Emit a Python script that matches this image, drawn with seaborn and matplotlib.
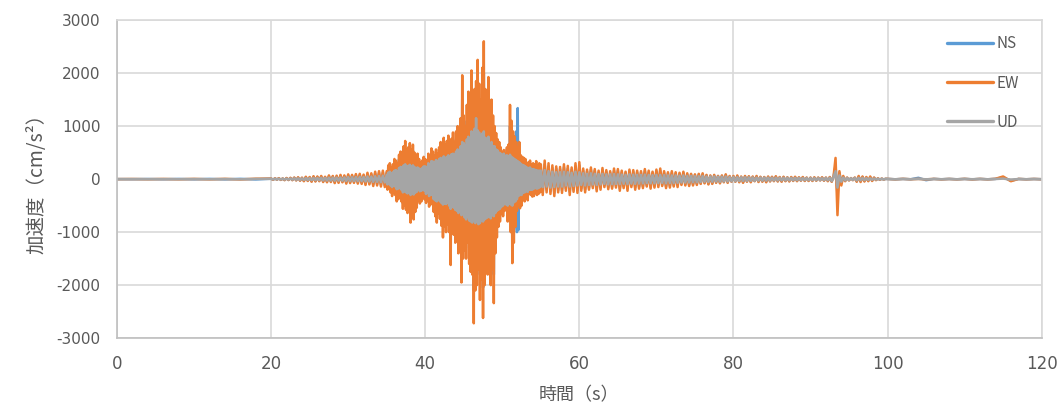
import numpy as np
import pandas as pd
import matplotlib
matplotlib.use("Agg")
import matplotlib.pyplot as plt
import seaborn as sns

# ==============================
# Data (peak values, cm/s^2)
# ==============================

# sampling times of each stretch (s)
t_pre = np.arange(0, 20, 2)
t_early = np.linspace(20, 34.75, 60)
t_main = np.linspace(35, 54.9, 200)
t_coda = np.linspace(55, 79.75, 100)
t_late = np.linspace(80, 99.75, 80)
t_tail = np.arange(100, 121, 1)

ew_pre = [0, 2, -2, 3, -3, 4, -4, 5, -6, 8]
ew_early = [10, -12, 15, -10, 18, -15, 12, -20, 22, -18,
            25, -20, 30, -25, 35, -30, 28, -40, 45, -35,
            40, -50, 55, -45, 50, -40, 60, -55, 45, -60,
            70, -55, 60, -75, 65, -70, 80, -60, 70, -85,
            90, -75, 80, -70, 95, -85, 100, -90, 85, -110,
            120, -100, 110, -130, 140, -120, 150, -140, 160, -150]
ew_main = [150, -200, 260, -180, 300, -250, 220, -320, 280, -260,
           380, -300, 350, -420, 300, -380, 460, -350, 520, -420,
           480, -560, 620, -500, 720, -580, 550, -640, 600, -520,
           680, -820, 560, -700, 650, -760, 500, -620, 420, -540,
           480, -400, 380, -460, 320, -420, 350, -300, 420, -380,
           380, -450, 300, -400, 480, -520, 400, -480, 580, -450,
           520, -620, 450, -700, 560, -820, 480, -650, 600, -750,
           700, -880, 620, -1100, 780, -900, 650, -1000, 720, -850,
           820, -1000, 700, -1620, 760, -900, 880, -1050, 700, -1200,
           900, -1150, 1000, -1400, 850, -1300, 1150, -1950, 1960, -1500,
           1200, -1350, 1000, -1500, 1400, -1200, 1650, -1600, 1300, -1750,
           2050, -1800, 1500, -2720, 1700, -2100, 1850, -2000, 2250, -1700,
           1800, -2280, 1500, -1900, 2100, -2620, 2600, -2000, 1700, -1600,
           1600, -1800, 1925, -1500, 1300, -2000, 1500, -1700, 1200, -2340,
           1000, -1400, 870, -1100, 750, -900, 700, -800, 600, -650,
           500, -700, 550, -600, 480, -550, 600, -800, 650, -700,
           1400, -1000, 1100, -1585, 900, -1200, 800, -900, 700, -600,
           600, -500, 700, -550, 450, -500, 420, -380, 400, -420,
           380, -350, 300, -400, 320, -280, 350, -300, 280, -330,
           300, -320, 280, -260, 340, -300, 260, -280, 300, -250]
ew_coda = [280, -300, 350, -250, 300, -280, 260, -320, 240, -250,
           230, -260, 280, -220, 250, -300, 220, -240, 300, -260,
           320, -220, 200, -250, 180, -200, 220, -170, 190, -230,
           160, -200, 210, -150, 170, -190, 150, -180, 200, -160,
           190, -220, 160, -170, 140, -220, 180, -150, 170, -200,
           160, -180, 150, -170, 190, -140, 160, -180, 140, -160,
           180, -150, 200, -130, 150, -170, 130, -160, 150, -140,
           130, -150, 120, -110, 140, -120, 110, -130, 100, -120,
           90, -110, 100, -90, 110, -80, 80, -100, 70, -90,
           80, -70, 60, -80, 70, -60, 90, -70, 60, -50]
ew_late = [60, -50, 70, -60, 50, -70, 60, -50, 55, -60,
           50, -40, 60, -55, 45, -50, 40, -60, 50, -45,
           45, -40, 55, -45, 40, -50, 45, -40, 35, -45,
           40, -35, 45, -40, 35, -30, 40, -35, 30, -35,
           30, -35, 35, -30, 30, -25, 35, -30, 30, -40,
           40, -50, 60, 400, -680, 150, -120, 60, -40, 30,
           -25, 20, -20, 30, -50, 60, -55, 50, -45, 40,
           -40, 50, -35, 30, -20, 15, -12, 10, -8, 6]
ew_tail = [4, -4, 5, -3, 4, -5, 4, -4, 3, -4, 5,
           -5, 4, -4, 6, 50, -40, 4, -3, 3, -2]

ns_pre = [0, -2, 2, -3, 3, -4, 4, -5, 5, -6]
ns_early = [8, -10, 12, -8, 15, -12, 10, -16, 18, -15,
            20, -16, 25, -20, 28, -25, 22, -32, 36, -28,
            32, -40, 45, -36, 40, -32, 48, -44, 36, -48,
            56, -44, 48, -60, 52, -56, 64, -48, 56, -68,
            72, -60, 64, -56, 76, -68, 80, -72, 68, -88,
            96, -80, 88, -104, 112, -96, 120, -112, 128, -120]
ns_main = [120, -160, 200, -150, 240, -200, 180, -260, 220, -200,
           300, -240, 280, -340, 250, -300, 380, -280, 420, -340,
           400, -460, 500, -420, 580, -480, 460, -520, 500, -440,
           560, -650, 480, -600, 540, -620, 420, -520, 360, -460,
           400, -340, 320, -380, 280, -350, 300, -260, 350, -320,
           320, -380, 260, -340, 400, -440, 340, -400, 480, -380,
           440, -520, 380, -580, 460, -680, 400, -560, 500, -620,
           580, -720, 520, -880, 640, -760, 540, -820, 600, -700,
           680, -820, 580, -1200, 620, -760, 720, -880, 580, -980,
           760, -950, 820, -1100, 700, -1050, 950, -1500, 1500, -1200,
           980, -1100, 820, -1200, 1100, -980, 1300, -1300, 1050, -1400,
           1600, -1450, 1200, -2100, 1350, -1700, 1500, -1600, 1750, -1400,
           1450, -1800, 1200, -1500, 1650, -2050, 2000, -1600, 1350, -1300,
           1300, -1450, 1500, -1200, 1050, -1600, 1200, -1350, 950, -1800,
           820, -1100, 700, -900, 620, -720, 560, -650, 480, -520,
           420, -560, 460, -500, 400, -460, 560, -650, 540, -600,
           1000, -800, 900, -1250, 750, -950, 700, -800, 900, -1000,
           1340, -960, 500, -450, 380, -420, 350, -320, 330, -350,
           310, -290, 250, -330, 260, -230, 290, -250, 230, -270,
           250, -260, 230, -210, 280, -250, 210, -230, 250, -200]
ns_coda = [220, -240, 280, -200, 240, -230, 210, -260, 200, -210,
           190, -210, 230, -180, 200, -240, 180, -200, 240, -210,
           260, -180, 160, -200, 150, -170, 180, -140, 160, -190,
           130, -160, 170, -120, 140, -160, 120, -150, 160, -130,
           160, -180, 130, -140, 120, -180, 150, -120, 140, -160,
           130, -150, 120, -140, 160, -120, 130, -150, 120, -130,
           150, -120, 160, -110, 120, -140, 110, -130, 120, -120,
           110, -120, 100, -90, 120, -100, 90, -110, 90, -100,
           80, -90, 90, -80, 90, -70, 70, -90, 60, -80,
           70, -60, 60, -70, 60, -50, 80, -60, 50, -45]
ns_late = [50, -45, 55, -50, 40, -60, 50, -40, 45, -50,
           40, -35, 50, -45, 38, -40, 35, -50, 40, -38,
           38, -32, 45, -38, 32, -40, 38, -32, 30, -36,
           32, -28, 36, -32, 28, -25, 32, -28, 25, -28,
           25, -28, 28, -25, 25, -20, 28, -25, 25, -32,
           35, -45, 50, 250, -300, 120, -80, 40, -30, 25,
           -20, 18, -15, 25, -40, 45, -40, 40, -35, 30,
           -30, 38, -28, 25, -16, 12, -10, 8, -6, 5]
ns_tail = [3, -3, 4, -3, 25, -20, 4, -3, 3, -3, 4,
           -4, 3, -3, 4, 35, -30, 3, -3, 2, -2]

ud_pre = [0, 1, -1, 1, -1, 2, -2, 2, -3, 4]
ud_early = [5, -6, 7, -6, 8, -8, 7, -9, 10, -9,
            12, -10, 14, -12, 15, -14, 13, -16, 18, -16,
            18, -20, 22, -20, 22, -20, 25, -24, 22, -26,
            28, -26, 28, -30, 30, -30, 32, -30, 32, -35,
            38, -35, 36, -34, 40, -38, 42, -40, 40, -45,
            50, -45, 48, -52, 55, -52, 60, -58, 65, -62]
ud_main = [80, -100, 120, -90, 140, -120, 110, -150, 130, -120,
           160, -140, 170, -190, 150, -180, 210, -170, 230, -200,
           220, -250, 260, -230, 280, -250, 240, -270, 250, -230,
           270, -300, 240, -280, 260, -290, 230, -260, 210, -240,
           220, -200, 200, -230, 190, -220, 210, -190, 240, -220,
           240, -280, 230, -260, 300, -320, 280, -300, 340, -300,
           330, -380, 320, -400, 360, -420, 340, -380, 380, -420,
           400, -450, 380, -480, 430, -460, 400, -470, 420, -440,
           450, -500, 420, -560, 470, -520, 480, -540, 460, -580,
           520, -600, 560, -640, 540, -620, 620, -680, 700, -660,
           680, -720, 640, -760, 750, -700, 800, -780, 760, -800,
           900, -820, 850, -780, 950, -830, 1150, -800, 920, -850,
           880, -830, 820, -780, 860, -800, 900, -760, 780, -740,
           760, -720, 800, -700, 680, -740, 700, -680, 620, -700,
           620, -640, 560, -600, 540, -580, 500, -560, 480, -520,
           460, -500, 480, -460, 440, -480, 450, -500, 420, -460,
           460, -480, 420, -500, 400, -440, 380, -420, 360, -380,
           340, -320, 320, -300, 290, -300, 270, -260, 260, -250,
           240, -230, 220, -240, 210, -200, 220, -200, 190, -200,
           190, -180, 180, -170, 170, -180, 160, -170, 160, -150]
ud_coda = [160, -150, 170, -140, 150, -160, 140, -150, 130, -140,
           130, -140, 140, -120, 130, -140, 120, -130, 140, -120,
           130, -110, 110, -120, 100, -110, 110, -100, 100, -110,
           95, -100, 100, -90, 90, -100, 90, -95, 95, -90,
           90, -95, 85, -90, 80, -95, 90, -85, 85, -90,
           80, -85, 80, -80, 85, -75, 80, -80, 75, -80,
           80, -75, 80, -70, 75, -80, 70, -75, 70, -75,
           70, -70, 65, -65, 70, -65, 60, -65, 60, -60,
           55, -60, 55, -55, 60, -50, 50, -55, 50, -50,
           50, -45, 45, -50, 45, -45, 50, -45, 40, -40]
ud_late = [40, -38, 38, -36, 36, -35, 35, -34, 34, -32,
           32, -32, 30, -30, 30, -30, 28, -28, 28, -28,
           26, -26, 26, -25, 25, -25, 24, -24, 24, -24,
           22, -22, 22, -22, 22, -20, 20, -20, 20, -20,
           20, -20, 18, -18, 18, -18, 18, -18, 20, -22,
           25, -35, 40, 150, -160, 70, -50, 30, -25, 20,
           -18, 16, -15, 20, -25, 25, -22, 22, -20, 18,
           -16, 15, -12, 10, -8, 6, -6, 5, -5, 4]
ud_tail = [3, -3, 2, -2, 3, -3, 2, -2, 3, -3, 2,
           -2, 3, -3, 2, 10, -10, 2, -2, 2, -2]

components = ['NS', 'EW', 'UD']
colors = ['#5B9BD5', '#ED7D31', '#A5A5A5']
y_ticks = [-3000, -2000, -1000, 0, 1000, 2000, 3000]
x_ticks = [0, 20, 40, 60, 80, 100, 120]

# ==============================
# Long table for seaborn
# ==============================

t_all = np.concatenate([t_pre, t_early, t_main, t_coda, t_late, t_tail])
series = {
    'NS': ns_pre + ns_early + ns_main + ns_coda + ns_late + ns_tail,
    'EW': ew_pre + ew_early + ew_main + ew_coda + ew_late + ew_tail,
    'UD': ud_pre + ud_early + ud_main + ud_coda + ud_late + ud_tail,
}
frames = []
for name in components:
    frames.append(pd.DataFrame({'t': t_all, 'acc': series[name], 'comp': name}))
df = pd.concat(frames, ignore_index=True)

# ==============================
# Plot
# ==============================

sns.set_style('white')
plt.rcParams['font.family'] = ['Noto Sans CJK JP', 'DejaVu Sans']
plt.rcParams['axes.unicode_minus'] = False

text_color = '#595959'
grid_color = '#D9D9D9'

fig = plt.figure(figsize=(10.64, 4.19), dpi=100)
ax = fig.add_axes([0.110, 0.193, 0.869, 0.759])

sns.lineplot(
    data=df,
    x='t',
    y='acc',
    hue='comp',
    hue_order=components,
    palette=colors,
    estimator=None,
    sort=False,
    linewidth=1.8,
    ax=ax
)

ax.set_xlim(0, 120)
ax.set_ylim(-3000, 3000)
ax.set_xticks(x_ticks)
ax.set_yticks(y_ticks)
ax.set_xticklabels([str(v) for v in x_ticks], family='Liberation Sans Narrow', fontsize=12)
ax.set_yticklabels([str(v) for v in y_ticks], family='DejaVu Sans', fontsize=11)
ax.grid(True, color=grid_color, linewidth=1.2)
ax.set_axisbelow(True)
for sp in ax.spines.values():
    sp.set_color(grid_color)
    sp.set_linewidth(1.2)
ax.spines['left'].set_color('#BFBFBF')
ax.spines['bottom'].set_color('#BFBFBF')

ax.tick_params(axis='both', length=0, colors=text_color)
ax.tick_params(axis='y', pad=12)
ax.tick_params(axis='x', pad=12)

ax.set_xlabel('時間（s）', fontsize=13, color=text_color, labelpad=10)
ax.set_ylabel('加速度（cm/s²）', fontsize=14, color=text_color, labelpad=6)

leg = ax.legend(
    loc='upper right',
    bbox_to_anchor=(0.99, 0.995),
    frameon=False,
    fontsize=11,
    handlelength=3.0,
    handletextpad=0.2,
    labelspacing=1.45
)
for line in leg.get_lines():
    line.set_linewidth(2.4)
for txt in leg.get_texts():
    txt.set_color(text_color)

fig.savefig('out.png', dpi=100)
